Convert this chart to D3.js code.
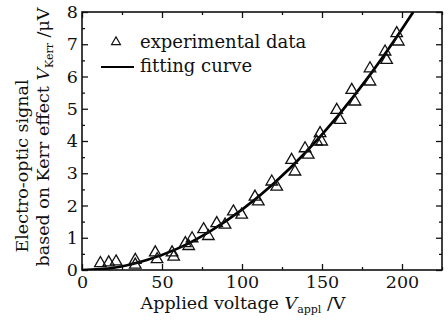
<!DOCTYPE html>
<html><head><meta charset="utf-8">
<script src="https://cdn.jsdelivr.net/npm/d3@7/dist/d3.min.js"></script>
<style>
html,body{margin:0;padding:0;background:#fff;}
svg{display:block;}
text{font-family:"DejaVu Serif","Liberation Serif",serif;fill:#111;}
</style></head>
<body><svg id="c" width="448" height="321"></svg>
<script>
// experimental data (applied voltage V, signal µV)
const expV = [11.5,16.7,21.3,33.3,33.3,45.8,46.9,56.3,57.3,64.6,66.7,68.8,76.0,79.0,84.2,89.4,94.6,99.8,108.1,110.2,118.6,121.7,131.0,133.1,139.4,141.4,146.7,148.8,149.8,159.2,161.3,168.6,170.6,180.0,180.0,189.4,190.4,196.7,197.7];
const expY = [0.21,0.23,0.26,0.31,0.16,0.54,0.33,0.54,0.41,0.83,0.74,0.98,1.26,1.05,1.45,1.40,1.81,1.71,2.27,2.12,2.74,2.58,3.41,3.05,3.77,3.57,3.98,4.24,3.98,4.96,4.65,5.58,5.22,6.25,5.84,6.77,6.51,7.34,7.08];
// fitting curve
const fitV = [0,20,40,60,80,100,120,140,160,180,200,207];
const fitY = [0,0.07,0.30,0.67,1.20,1.87,2.69,3.66,4.78,6.05,7.47,8.0];
const xMajor = [0,50,100,150,200];
const xMinor = [25,75,125,175,225];
const yMajor = [0,1,2,3,4,5,6,7,8];
const yMinor = [0.5,1.5,2.5,3.5,4.5,5.5,6.5,7.5];

const L=82, R=442, T=12, B=270;
const FS = 17.5;
const svg = d3.select("#c");
const x = d3.scaleLinear().domain([0,225]).range([L,R]);
const y = d3.scaleLinear().domain([0,8]).range([B,T]);

svg.append("clipPath").attr("id","clip").append("rect").attr("x",L).attr("y",T).attr("width",R-L).attr("height",B-T);

function styleAxis(g){ g.select(".domain").remove(); g.selectAll("line").attr("stroke","#111").attr("stroke-width",1.3); }
const gb = svg.append("g").attr("transform",`translate(0,${B})`);
gb.call(d3.axisBottom(x).tickValues(xMajor).tickSize(-6).tickPadding(6).tickFormat(d3.format("d"))).call(styleAxis);
gb.selectAll("text").attr("font-size",FS).attr("font-family","DejaVu Serif").attr("fill","#111");
svg.append("g").attr("transform",`translate(0,${B})`).call(d3.axisBottom(x).tickValues(xMinor).tickSize(-3).tickFormat("")).call(styleAxis);
svg.append("g").attr("transform",`translate(0,${T})`).call(d3.axisTop(x).tickValues(xMajor).tickSize(-6).tickFormat("")).call(styleAxis);
svg.append("g").attr("transform",`translate(0,${T})`).call(d3.axisTop(x).tickValues(xMinor).tickSize(-3).tickFormat("")).call(styleAxis);
const gl = svg.append("g").attr("transform",`translate(${L},0)`);
gl.call(d3.axisLeft(y).tickValues(yMajor).tickSize(-6).tickPadding(4).tickFormat(d3.format("d"))).call(styleAxis);
gl.selectAll("text").attr("font-size",FS).attr("font-family","DejaVu Serif").attr("fill","#111");
svg.append("g").attr("transform",`translate(${L},0)`).call(d3.axisLeft(y).tickValues(yMinor).tickSize(-3).tickFormat("")).call(styleAxis);
svg.append("g").attr("transform",`translate(${R},0)`).call(d3.axisRight(y).tickValues(yMajor).tickSize(-6).tickFormat("")).call(styleAxis);
svg.append("g").attr("transform",`translate(${R},0)`).call(d3.axisRight(y).tickValues(yMinor).tickSize(-3).tickFormat("")).call(styleAxis);

svg.append("rect").attr("x",L).attr("y",T).attr("width",R-L).attr("height",B-T)
  .attr("fill","none").attr("stroke","#111").attr("stroke-width",1.6);

// fitting curve
const pts = fitV.map((v,i)=>[v,fitY[i]]);
svg.append("path").attr("clip-path","url(#clip)").datum(pts)
  .attr("d", d3.line().x(d=>x(d[0])).y(d=>y(d[1])).curve(d3.curveMonotoneX))
  .attr("fill","none").attr("stroke","#000").attr("stroke-width",2.7);

// points
const tri = d3.symbol().type(d3.symbolTriangle).size(58);
svg.append("g").selectAll("path").data(expV.map((v,i)=>[v,expY[i]])).join("path")
  .attr("transform",d=>`translate(${x(d[0])},${y(d[1])})`)
  .attr("d",tri).attr("fill","none").attr("stroke","#111").attr("stroke-width",1.3);

// legend
svg.append("path").attr("transform","translate(116,42)").attr("d",d3.symbol().type(d3.symbolTriangle).size(34)())
  .attr("fill","none").attr("stroke","#111").attr("stroke-width",1.2);
svg.append("text").attr("x",140).attr("y",48).attr("font-size",FS+0.5).text("experimental data");
svg.append("line").attr("x1",101).attr("x2",134).attr("y1",67).attr("y2",67).attr("stroke","#000").attr("stroke-width",2.2);
svg.append("text").attr("x",140).attr("y",72).attr("font-size",FS+0.5).text("fitting curve");

// x title
const xt = svg.append("text").attr("x",243).attr("y",309).attr("text-anchor","middle").attr("font-size",FS);
xt.append("tspan").text("Applied voltage ");
xt.append("tspan").attr("font-style","italic").text("V");
xt.append("tspan").attr("font-size",11).attr("dy",4).text("appl");
xt.append("tspan").attr("dy",-4).text(" /V");

// y title
svg.append("text").attr("transform","translate(28,166) rotate(-90)").attr("text-anchor","middle").attr("font-size",FS)
  .text("Electro-optic signal");
const yt2 = svg.append("text").attr("transform","translate(49,137) rotate(-90)").attr("text-anchor","middle").attr("font-size",FS);
yt2.append("tspan").text("based on Kerr effect ");
yt2.append("tspan").attr("font-style","italic").text("V");
yt2.append("tspan").attr("font-size",11).attr("dy",4).text("Kerr");
yt2.append("tspan").attr("dy",-4).text(" /μV");
</script></body></html>
